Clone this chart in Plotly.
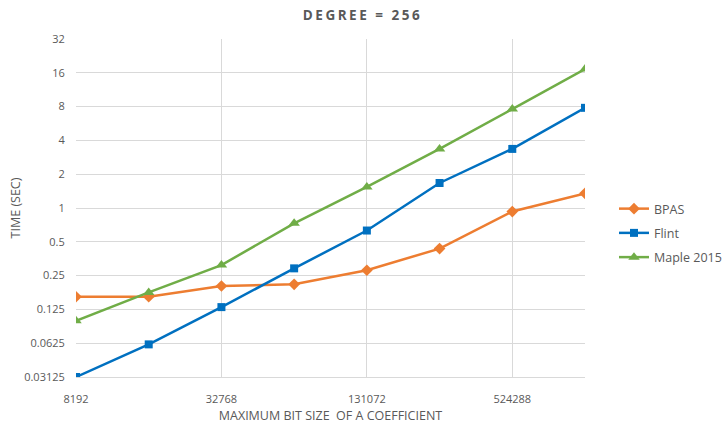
import math
import plotly.graph_objects as go

bit_sizes = [8192, 16384, 32768, 65536, 131072, 262144, 524288, 1048576]
bpas = [0.162, 0.162, 0.202, 0.209, 0.279, 0.435, 0.93, 1.35]
flint = [0.03125, 0.061, 0.131, 0.29, 0.63, 1.67, 3.36, 7.8]
maple = [0.099, 0.177, 0.31, 0.73, 1.54, 3.36, 7.6, 17.3]

x_ticks = [8192, 32768, 131072, 524288]
y_ticks = [0.03125, 0.0625, 0.125, 0.25, 0.5, 1, 2, 4, 8, 16, 32]
y_tick_text = ["0.03125", "0.0625", "0.125", "0.25", "0.5", "1", "2", "4", "8", "16", "32"]

FONT = "Open Sans"
GRAY = "#595959"

fig = go.Figure()
fig.add_trace(go.Scatter(x=bit_sizes, y=bpas, name="BPAS", mode="lines+markers", legendgroup="a",
                         line=dict(color="#ED7D31", width=2.5),
                         marker=dict(symbol="diamond", size=9, color="#ED7D31")))
fig.add_trace(go.Scatter(x=bit_sizes, y=flint, name="Flint", mode="lines+markers", legendgroup="b",
                         line=dict(color="#0070C0", width=2.5),
                         marker=dict(symbol="square", size=8, color="#0070C0")))
fig.add_trace(go.Scatter(x=bit_sizes, y=maple, name="Maple 2015", mode="lines+markers", legendgroup="c",
                         line=dict(color="#70AD47", width=2.5),
                         marker=dict(symbol="triangle-up", size=10, color="#70AD47")))

fig.update_layout(
    width=725, height=424,
    margin=dict(l=76, r=140, t=39, b=47, autoexpand=False),
    paper_bgcolor="white", plot_bgcolor="white",
    font=dict(family=FONT, color=GRAY, size=11),
    title=dict(text='<span style="letter-spacing:2.5px">DEGREE = 256</span>',
               x=0.5, xanchor="center", xref="container",
               y=1 - 15 / 424, yref="container", yanchor="middle",
               font=dict(family=FONT, size=13.5, color=GRAY, weight="bold")),
    legend=dict(x=(614 - 76) / (585 - 76), xanchor="left",
                y=(377 - 233) / 338, yanchor="middle",
                font=dict(family=FONT, size=12.5, color=GRAY), tracegroupgap=5,
                itemwidth=30),
    showlegend=True,
)
fig.update_xaxes(type="log", range=[math.log10(8192), math.log10(1048576)],
                 tickvals=x_ticks, ticktext=[str(v) for v in x_ticks], automargin=False,
                 showgrid=True, gridcolor="#d9d9d9", gridwidth=1,
                 showline=True, linecolor="#d9d9d9", zeroline=False,
                 ticks="outside", ticklen=12, tickcolor="rgba(255,255,255,0)",
                 tickfont=dict(size=11, color=GRAY),
                 title=dict(text="MAXIMUM BIT SIZE  OF A COEFFICIENT", font=dict(size=12.5, color=GRAY), standoff=13))
fig.update_yaxes(type="log", range=[math.log10(0.03125), math.log10(32)],
                 tickvals=y_ticks, ticktext=y_tick_text, automargin=False,
                 showgrid=True, gridcolor="#d9d9d9", gridwidth=1,
                 showline=False, zeroline=False,
                 ticks="outside", ticklen=8, tickcolor="rgba(255,255,255,0)",
                 tickfont=dict(size=11, color=GRAY),
                 title=dict(text="TIME (SEC)", font=dict(size=12.5, color=GRAY), standoff=0))

fig.write_html("out.html", config={"displayModeBar": False},
               post_script="document.body.style.margin='0';")
